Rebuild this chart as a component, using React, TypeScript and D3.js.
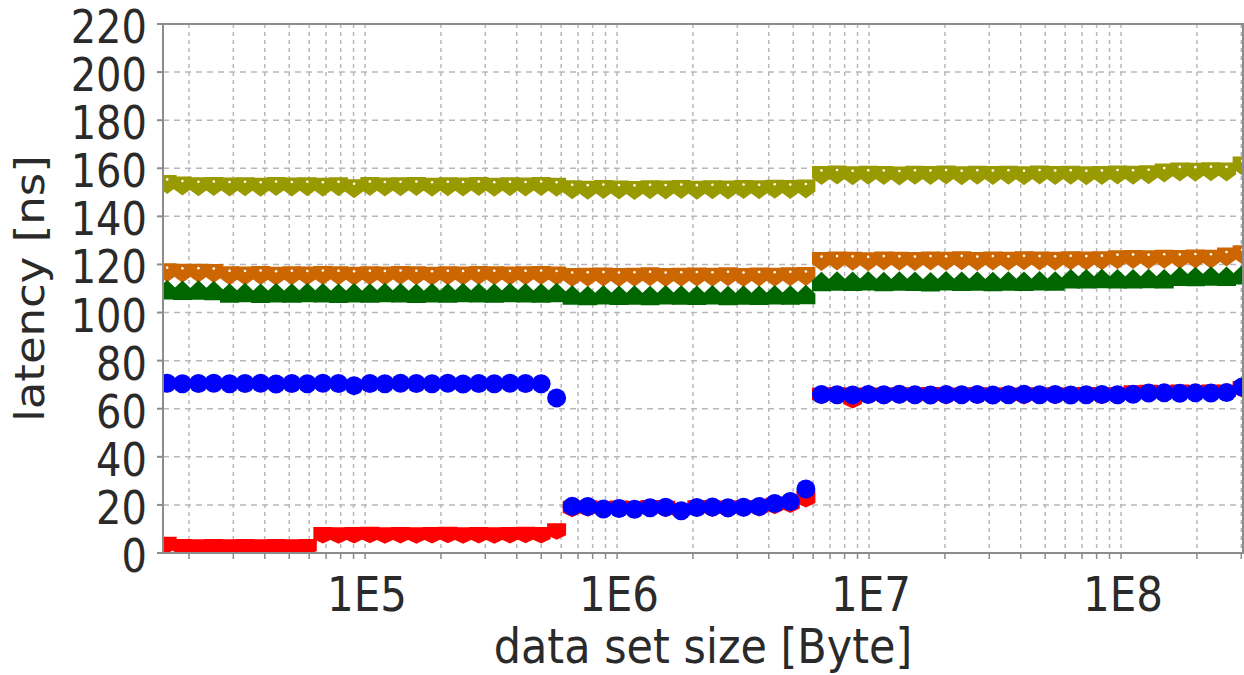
import { scaleLinear, scaleLog } from "d3";

// data set sizes in KB
const sizesKB = [
  16, 18.4, 21.3, 24.5, 28.3, 32.6, 37.6, 43.3, 50, 57.6,
  66.4, 76.6, 88.3, 102, 117, 135, 156, 180, 208, 239,
  276, 318, 367, 423, 488, 562, 648, 747, 862, 994,
  1145, 1320, 1522, 1755, 2024, 2334, 2691, 3102, 3577, 4124,
  4755, 5483, 6322, 7289, 8404, 9690, 11172, 12882, 14853, 17125,
  19745, 22766, 26249, 30265, 34896, 40235, 46391, 53489, 61673, 71109,
  81989, 94533, 108997, 125674, 144902, 167072, 192634, 222107, 256090, 295272,
];

const oliveNs = [
  153.5, 152.8, 152.5, 152.6, 152.4, 152.5, 152.3, 152.6, 152.4, 152.5,
  152.3, 152.5, 151.7, 152.6, 152.4, 152.5, 152.6, 152.3, 152.5, 152.4,
  152.6, 152.3, 152.5, 152.4, 152.6, 152.3,
  151.3, 151.1, 151.4, 151.2, 151.0, 151.3, 151.2, 151.4, 151.1, 151.3,
  151.2, 151.4, 151.3, 151.5, 151.4, 151.6,
  157.2, 157.4, 157.1, 157.3, 157.2, 157.0, 157.3, 157.2, 157.4, 157.1,
  157.3, 157.2, 157.3, 157.1, 157.4, 157.2, 157.3, 157.1, 157.2, 157.4,
  157.3, 157.5, 158.2, 158.7, 158.6, 158.8, 158.7, 161.2,
];

const orangeNs = [
  116.8, 116.5, 116.6, 116.4, 115.5, 115.4, 115.6, 115.3, 115.5, 115.4,
  115.6, 115.5, 115.3, 115.5, 115.4, 115.6, 115.5, 115.3, 115.5, 115.4,
  115.6, 115.5, 115.4, 115.5, 115.6, 115.4,
  114.8, 114.9, 115.0, 114.8, 114.9, 115.1, 114.8, 114.9, 115.0, 114.9,
  115.1, 114.8, 115.0, 114.9, 115.1, 115.2,
  121.4, 121.6, 121.5, 121.3, 121.6, 121.5, 121.4, 121.6, 121.5, 121.7,
  121.4, 121.6, 121.5, 121.7, 121.6, 121.5, 121.7, 121.6, 121.8, 122.2,
  122.3, 122.2, 122.4, 122.3, 122.5, 122.4, 123.3, 124.2,
];

const greenNs = [
  109.4, 109.2, 109.3, 109.1, 108.0, 108.2, 107.9, 108.1, 108.0, 108.2,
  108.1, 107.9, 108.1, 108.0, 108.2, 108.1, 107.9, 108.1, 108.0, 108.2,
  108.1, 108.0, 108.2, 108.1, 108.0, 108.2,
  107.2, 107.0, 107.3, 107.1, 107.2, 107.0, 107.3, 107.2, 107.1, 107.3,
  107.0, 107.2, 107.1, 107.3, 107.2, 107.4,
  112.8, 113.0, 112.9, 113.1, 112.8, 113.0, 112.9, 112.7, 113.1, 112.9,
  113.0, 112.8, 113.0, 112.9, 113.1, 113.0, 114.0, 113.9, 114.1, 114.0,
  113.9, 114.1, 114.0, 115.0, 114.9, 115.1, 115.0, 115.6,
];

const blueNs = [
  70.6, 70.4, 70.5, 70.6, 70.4, 70.5, 70.6, 70.3, 70.5, 70.4,
  70.6, 70.5, 69.6, 70.5, 70.4, 70.6, 70.5, 70.4, 70.6, 70.3,
  70.5, 70.4, 70.6, 70.5, 70.4, 64.5,
  19.4, 19.3, 18.3, 18.5, 18.2, 18.8, 19.0, 17.6, 18.9, 19.1,
  18.8, 19.0, 19.3, 20.6, 21.4, 26.6,
  65.9, 65.8, 65.7, 65.9, 65.8, 66.0, 65.8, 65.7, 65.9, 65.8,
  65.9, 65.7, 65.8, 66.0, 65.8, 65.9, 65.7, 65.8, 65.9, 65.8,
  66.0, 66.5, 66.6, 66.4, 66.6, 66.5, 66.7, 69.0,
];

const redNs = [
  3.4, 2.5, 2.4, 2.5, 2.4, 2.5, 2.4, 2.5, 2.4, 2.5,
  7.5, 7.4, 7.5, 7.6, 7.4, 7.5, 7.4, 7.5, 7.6, 7.4,
  7.5, 7.4, 7.5, 7.6, 7.5, 9.0,
  18.4, 18.6, 18.2, 18.5, 18.3, 18.7, 18.4, 17.5, 18.6, 18.5,
  18.3, 18.6, 18.7, 19.6, 20.2, 22.5,
  65.4, 65.6, 63.6, 65.5, 65.3, 65.6, 65.4, 65.7, 65.3, 65.5,
  65.6, 65.4, 65.5, 65.3, 65.6, 65.4, 65.5, 65.7, 65.4, 65.6,
  66.4, 66.6, 66.3, 66.7, 66.5, 66.8, 66.6, 68.2,
];

const yTicks = [0, 20, 40, 60, 80, 100, 120, 140, 160, 180, 200, 220];
const xLabels = [
  { value: 1e5, label: "1E5" },
  { value: 1e6, label: "1E6" },
  { value: 1e7, label: "1E7" },
  { value: 1e8, label: "1E8" },
];

// marker outlines: flat edge plus a shallow point, so neighbours merge into a band
const DOWN = "M-9.5,-9H9.5V3L0,10L-9.5,3Z";
const DOWN_RED = "M-9.5,-8H9.5V4L0,8.5L-9.5,4Z";
const UP = "M-9.5,9.5H9.5V-1L0,-10L-9.5,-1Z";

const series = [
  { key: "olive", color: "#999900", values: oliveNs, path: DOWN, dot: true },
  { key: "orange", color: "#cc6600", values: orangeNs, path: DOWN, dot: true },
  { key: "green", color: "#006600", values: greenNs, path: UP, dot: false },
  { key: "red", color: "#ff0000", values: redNs, path: DOWN_RED, dot: false },
  { key: "blue", color: "#0000ff", values: blueNs, path: null, dot: false },
];

export default function App() {
  const width = 1244;
  const height = 675;
  const left = 163;
  const right = 1243;
  const top = 24;
  const bottom = 553;
  const font = "'DejaVu Sans', sans-serif";
  const ink = "#2a2a2a";
  const axisColor = "#8c8c8c";
  const gridColor = "#b8b8b8";

  const x = scaleLog().domain([10 ** 4.198, 10 ** 8.484]).range([left, right]);
  const y = scaleLinear().domain([0, 220]).range([bottom, top]);
  const [d0, d1] = x.domain();

  const minor: number[] = [];
  for (let e = 4; e <= 8; e++) {
    for (let m = 1; m <= 9; m++) {
      const v = m * 10 ** e;
      if (v >= d0 && v <= d1) minor.push(v);
    }
  }

  return (
    <svg
      width={width}
      height={height}
      viewBox={`0 0 ${width} ${height}`}
      style={{ position: "absolute", left: 0, top: 0, background: "#fff" }}
    >
      <defs>
        <clipPath id="plot">
          <rect x={left} y={top} width={right - left} height={bottom - top} />
        </clipPath>
      </defs>
      <rect width={width} height={height} fill="#fff" />

      {/* grid */}
      {minor.map((v) => (
        <line
          key={"gx" + v}
          x1={x(v)}
          x2={x(v)}
          y1={top}
          y2={bottom}
          stroke={gridColor}
          strokeWidth={1.5}
          strokeDasharray="4 4"
        />
      ))}
      {yTicks.slice(1, -1).map((t) => (
        <line
          key={"gy" + t}
          x1={left}
          x2={right}
          y1={y(t)}
          y2={y(t)}
          stroke={gridColor}
          strokeWidth={1.5}
          strokeDasharray="6 5"
        />
      ))}

      {/* series */}
      <g clipPath="url(#plot)">
        {series.map((s) => (
          <g key={s.key} fill={s.color}>
            {s.values.map((v, i) => {
              const px = x(sizesKB[i] * 1024);
              const py = y(v);
              return (
                <g key={i} transform={`translate(${px},${py})`}>
                  {s.path ? <path d={s.path} /> : <circle r={9.5} />}
                  {s.dot && <circle cx={0} cy={-4.5} r={1.3} fill="#fff" />}
                </g>
              );
            })}
          </g>
        ))}
      </g>

      {/* frame */}
      <rect
        x={left}
        y={top}
        width={right - left}
        height={bottom - top}
        fill="none"
        stroke={axisColor}
        strokeWidth={2}
      />

      {/* y axis */}
      {yTicks.map((t) => (
        <g key={"yt" + t}>
          <line x1={left - 6} x2={left} y1={y(t)} y2={y(t)} stroke={axisColor} strokeWidth={2} />
          <text
            transform={`translate(${left - 16},${y(t) + 19}) scale(1,1.15)`}
            textAnchor="end"
            fontFamily={font}
            fontSize={40}
            fill={ink}
          >
            {t}
          </text>
        </g>
      ))}

      {/* x axis */}
      {minor.map((v) => (
        <line
          key={"xt" + v}
          x1={x(v)}
          x2={x(v)}
          y1={bottom}
          y2={bottom + 6}
          stroke={axisColor}
          strokeWidth={1.5}
        />
      ))}
      {xLabels.map((l) => (
        <text
          key={l.label}
          transform={`translate(${x(l.value) + 2},611) scale(1,1.16)`}
          textAnchor="middle"
          fontFamily={font}
          fontSize={42}
          fill={ink}
        >
          {l.label}
        </text>
      ))}

      <text
        transform={`translate(${(left + right) / 2},663) scale(1,1.12)`}
        textAnchor="middle"
        fontFamily={font}
        fontSize={43}
        fill={ink}
      >
        data set size [Byte]
      </text>
      <text
        transform={`translate(44,${(top + bottom) / 2}) scale(1,1.125) rotate(-90)`}
        textAnchor="middle"
        fontFamily={font}
        fontSize={40}
        fill={ink}
      >
        latency [ns]
      </text>
    </svg>
  );
}
